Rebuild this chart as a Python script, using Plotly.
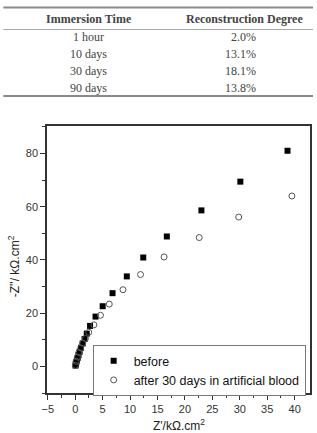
import plotly.graph_objects as go

# Table data
table_header = ["Immersion Time", "Reconstruction Degree"]
immersion_time = ["1 hour", "10 days", "30 days", "90 days"]
reconstruction_degree = ["2.0%", "13.1%", "18.1%", "13.8%"]

# Nyquist data (kOhm.cm2)
before_x = [0.05, 0.1, 0.2, 0.3, 0.45, 0.6, 0.8, 1.05, 1.35, 1.7, 2.1, 2.7, 3.7, 5.0, 6.8, 9.4, 12.4, 16.7, 23.0, 30.1, 38.7]
before_y = [0.3, 0.8, 1.5, 2.3, 3.2, 4.2, 5.5, 7.0, 8.6, 10.3, 12.3, 15.2, 18.7, 22.6, 27.5, 33.8, 40.9, 48.8, 58.6, 69.4, 81.0]
after_x = [0.02, 0.15, 0.4, 0.65, 1.0, 1.37, 1.86, 2.46, 3.4, 4.6, 6.2, 8.7, 11.9, 16.2, 22.6, 29.8, 39.5]
after_y = [0.4, 1.9, 3.5, 5.2, 6.9, 8.7, 10.5, 12.8, 15.6, 19.2, 23.4, 28.8, 34.5, 41.1, 48.4, 56.1, 64.0]

W, H = 317, 433
ML, MR, MT, MB = 47, 5, 126, 40
PH = H - MT - MB
PW = W - ML - MR

def py(p):
    return (H - MB - p) / PH

def px(p):
    return (p - ML) / PW

fig = go.Figure()
fig.add_trace(go.Scatter(x=before_x, y=before_y, mode="markers", name="before",
                         marker=dict(symbol="square", size=6, color="black")))
fig.add_trace(go.Scatter(x=after_x, y=after_y, mode="markers", name="after 30 days in artificial blood",
                         marker=dict(symbol="circle-open", size=6, color="#555", line=dict(width=1, color="#555"))))

shapes = []
for yy, w, c in [(7.5, 2, "#8a8a8a"), (29.5, 1, "#aaaaaa"), (96, 2, "#8a8a8a")]:
    shapes.append(dict(type="line", xref="paper", yref="paper", x0=px(3), x1=px(315),
                       y0=py(yy), y1=py(yy), line=dict(color=c, width=w)))

annotations = []
serif = "Liberation Serif, Times New Roman, serif"
annotations.append(dict(text="<b>" + table_header[0] + "</b>", x=px(89), y=py(18.5), xref="paper", yref="paper",
                        showarrow=False, font=dict(family=serif, size=12, color="#444"), xanchor="center", yanchor="middle"))
annotations.append(dict(text="<b>" + table_header[1] + "</b>", x=px(246), y=py(18.5), xref="paper", yref="paper",
                        showarrow=False, font=dict(family=serif, size=12, color="#444"), xanchor="center", yanchor="middle"))
row_y = [37.5, 54.5, 71.2, 88.3]
for t, r, yy in zip(immersion_time, reconstruction_degree, row_y):
    annotations.append(dict(text=t, x=px(89), y=py(yy), xref="paper", yref="paper", showarrow=False,
                            font=dict(family=serif, size=12, color="#444"), xanchor="center", yanchor="middle"))
    annotations.append(dict(text=r, x=px(260), y=py(yy), xref="paper", yref="paper", showarrow=False,
                            font=dict(family=serif, size=12, color="#444"), xanchor="right", yanchor="middle"))

# axis titles
annotations.append(dict(text="-Z''/ kΩ.cm<sup>2</sup>", x=px(14), y=py(266), xref="paper", yref="paper",
                        showarrow=False, textangle=-90, font=dict(family="Liberation Sans, Arial", size=12, color="#222"),
                        xanchor="center", yanchor="middle"))
annotations.append(dict(text="Z'/kΩ.cm<sup>2</sup>", x=px(180), y=py(425), xref="paper", yref="paper",
                        showarrow=False, font=dict(family="Liberation Sans, Arial", size=12, color="#222"),
                        xanchor="center", yanchor="middle"))

axis_common = dict(showline=True, linecolor="#333", linewidth=1.5, mirror=True, showgrid=False, zeroline=False,
                   ticks="outside", ticklen=5, tickwidth=1, tickcolor="#333",
                   tickfont=dict(family="Liberation Sans, Arial", size=11, color="#333"))

fig.update_layout(
    width=W, height=H,
    margin=dict(l=ML, r=MR, t=MT, b=MB),
    plot_bgcolor="white", paper_bgcolor="white",
    xaxis=dict(range=[-5.15, 42.8], tickvals=[-5, 0, 5, 10, 15, 20, 25, 30, 35, 40],
               minor=dict(tickvals=[-2.5, 2.5, 7.5, 12.5, 17.5, 22.5, 27.5, 32.5, 37.5], ticks="outside", ticklen=3, tickcolor="#333"),
               **axis_common),
    yaxis=dict(range=[-10, 90.3], tickvals=[0, 20, 40, 60, 80],
               minor=dict(tickvals=[-10, 10, 30, 50, 70, 90], ticks="outside", ticklen=3, tickcolor="#333"),
               **axis_common),
    showlegend=True,
    legend=dict(x=px(93), y=py(345), xanchor="left", yanchor="top", bordercolor="#777", borderwidth=1,
                bgcolor="white", font=dict(family="Liberation Sans, Arial", size=12.5, color="#111"),
                tracegroupgap=0, itemwidth=30),
    shapes=shapes, annotations=annotations,
)

fig.write_html("out.html")
